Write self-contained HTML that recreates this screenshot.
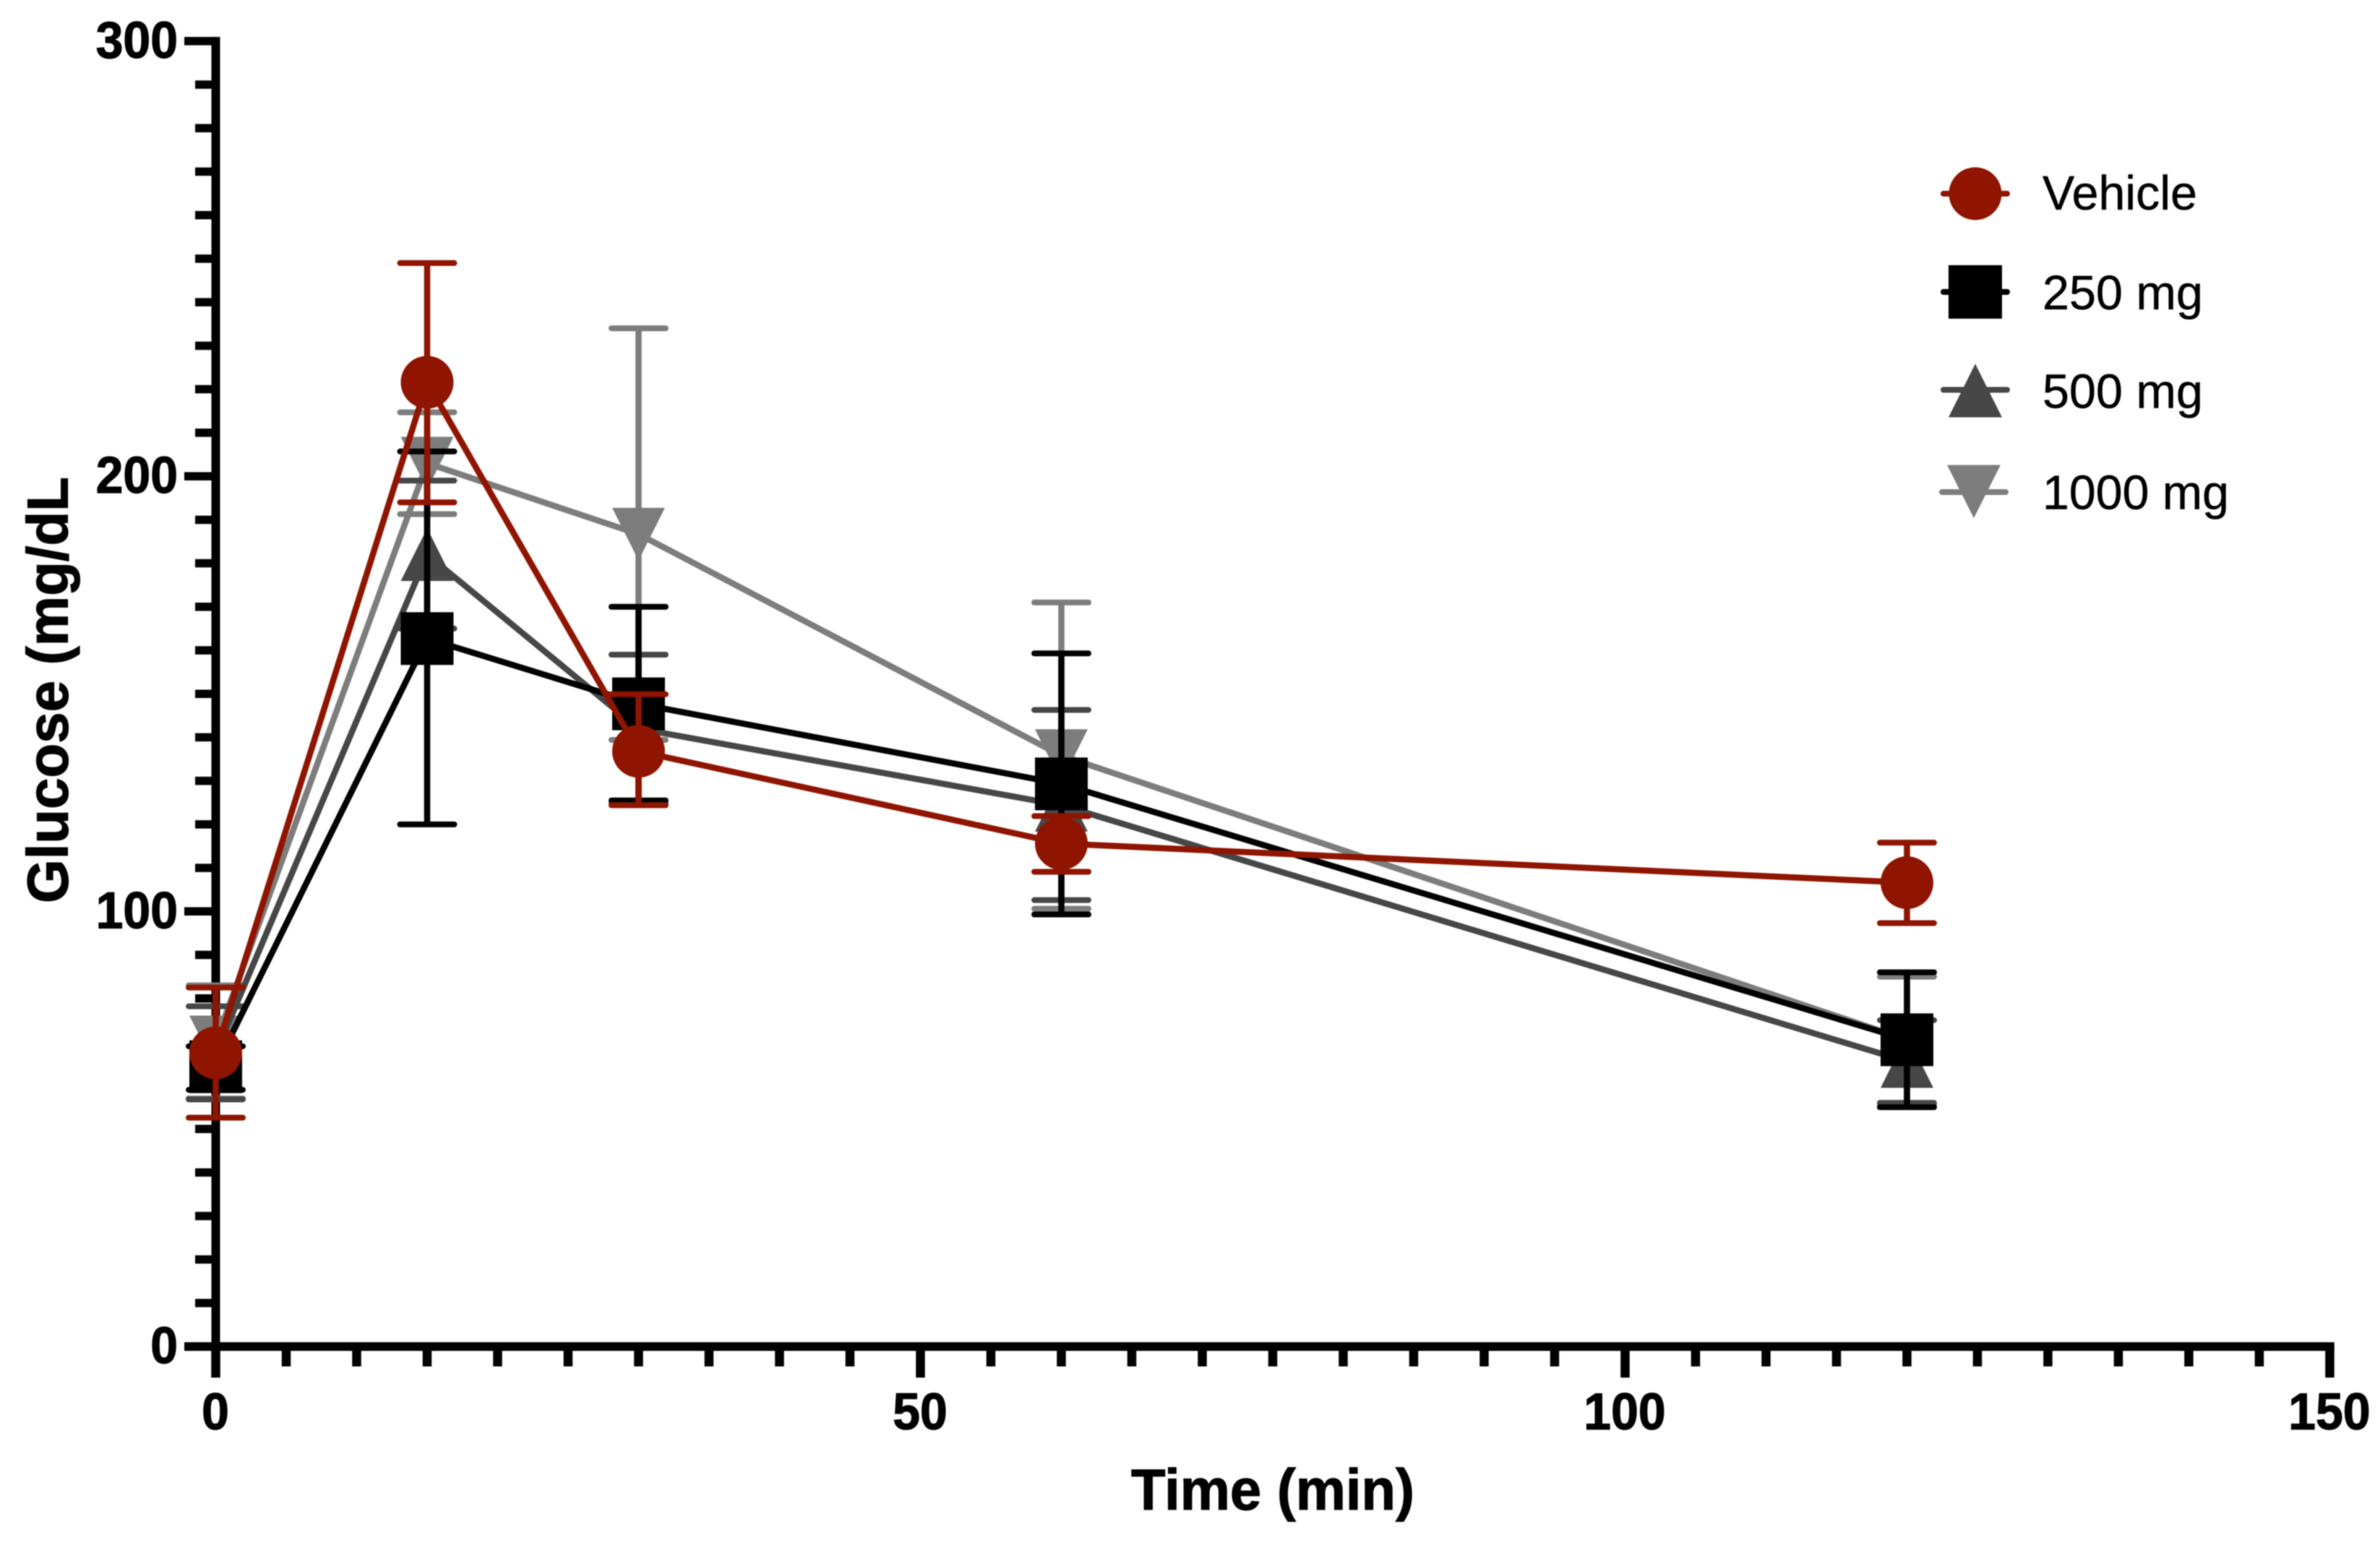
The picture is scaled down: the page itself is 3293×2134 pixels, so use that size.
<!DOCTYPE html>
<html lang="en">
<head>
<meta charset="utf-8">
<title>Glucose over time</title>
<style>
  html, body { margin: 0; padding: 0; background: #fff; }
  #chart { display: block; width: 3293px; height: 2134px; filter: blur(0.7px); font-family: "Liberation Sans", Arial, sans-serif; }
  .tick-label { font-weight: 700; font-size: 71px; fill: #000; stroke: #000; stroke-width: 1.2px; }
  .axis-title { font-weight: 700; font-size: 80px; fill: #000; stroke: #000; stroke-width: 1.2px; }
  .legend-label { font-size: 67px; fill: #000; stroke: #000; stroke-width: 0.5px; }
</style>
</head>
<body>
<svg id="chart" xmlns="http://www.w3.org/2000/svg" width="3293" height="2134" viewBox="0 0 3293 2134">
  <rect x="0" y="0" width="3293" height="2134" fill="#ffffff"></rect>
  <g id="axes"></g>
  <g id="series"></g>

  <text class="axis-title" x="1565" y="2089" textLength="392" lengthAdjust="spacingAndGlyphs">Time (min)</text>
  <text class="axis-title" transform="translate(93.5 1250) rotate(-90)" x="0" y="0" textLength="590" lengthAdjust="spacingAndGlyphs">Glucose (mg/dL</text>

  <g>
    <g>
      <line x1="2689" y1="268" x2="2777" y2="268" stroke="#8f1500" stroke-width="8" stroke-linecap="round"></line>
      <circle cx="2733" cy="268" r="36.5" fill="#8f1500"></circle>
      <text class="legend-label" x="2826" y="290" textLength="214" lengthAdjust="spacingAndGlyphs">Vehicle</text>
    </g>
    <g>
      <line x1="2689" y1="404" x2="2777" y2="404" stroke="#000000" stroke-width="8" stroke-linecap="round"></line>
      <rect x="2696" y="367" width="74" height="74" fill="#000000"></rect>
      <text class="legend-label" x="2826" y="428" textLength="222" lengthAdjust="spacingAndGlyphs">250 mg</text>
    </g>
    <g>
      <line x1="2689" y1="539.5" x2="2777" y2="539.5" stroke="#474747" stroke-width="8" stroke-linecap="round"></line>
      <polygon points="2733,503.5 2770,577.5 2696,577.5" fill="#474747"></polygon>
      <text class="legend-label" x="2826" y="564.5" textLength="222" lengthAdjust="spacingAndGlyphs">500 mg</text>
    </g>
    <g>
      <line x1="2687" y1="681" x2="2775" y2="681" stroke="#7d7d7d" stroke-width="8" stroke-linecap="round"></line>
      <polygon points="2694,643.5 2768,643.5 2731,717" fill="#7d7d7d"></polygon>
      <text class="legend-label" x="2826" y="704.5" textLength="258" lengthAdjust="spacingAndGlyphs">1000 mg</text>
    </g>
  </g>
</svg>

<script>
const timePoints = [0, 15, 30, 60, 120];

const vehicleMean  = [67.5, 221.6, 136.8, 115.6, 106.6];
const vehicleUpper = [82.5, 249.0, 149.9, 121.9, 115.8];
const vehicleLower = [52.6, 194.0, 124.4, 109.1, 97.3];

const dose250Mean  = [64.3, 162.7, 147.7, 129.3, 70.5];
const dose250Upper = [69.0, 205.7, 170.0, 159.3, 86.0];
const dose250Lower = [59.0, 120.0, 125.5, 99.3, 55.0];

const dose500Mean  = [67.5, 182.0, 142.0, 124.4, 65.5];
const dose500Upper = [78.2, 199.0, 159.0, 146.3, 75.0];
const dose500Lower = [56.8, 165.0, 125.0, 102.6, 56.0];

const dose1000Mean  = [70.0, 203.0, 186.7, 135.8, 70.5];
const dose1000Upper = [83.0, 214.7, 234.0, 171.0, 85.0];
const dose1000Lower = [57.0, 191.3, 139.4, 100.6, 55.5];

const xTickLabels = [0, 50, 100, 150];
const yTickLabels = [0, 100, 200, 300];

const X_ORIGIN = 298.5, X_SCALE = 19.5, X_MAX = 150, X_MINOR_STEP = 5;
const Y_ORIGIN = 1863.5, Y_SCALE = 6.022, Y_MAX = 300, Y_MINOR_STEP = 10;

function xAt(t) { return X_ORIGIN + t * X_SCALE; }
function yAt(v) { return Y_ORIGIN - v * Y_SCALE; }

const NS = 'http://www.w3.org/2000/svg';
function make(tag, attrs, parent) {
  const node = document.createElementNS(NS, tag);
  for (const key in attrs) node.setAttribute(key, attrs[key]);
  parent.appendChild(node);
  return node;
}

/* ---------- axes ---------- */
const axes = document.getElementById('axes');
const AXIS_W = 12;

for (let v = 0; v <= Y_MAX; v += Y_MINOR_STEP) {
  const major = v % 100 === 0;
  const tick = make('line', { x1: major ? 255 : 270, x2: X_ORIGIN, y1: yAt(v), y2: yAt(v), stroke: '#000', 'stroke-width': 11.5 }, axes);
  
  
}
for (let t = 0; t <= X_MAX; t += X_MINOR_STEP) {
  const major = t % 50 === 0;
  const tick = make('line', { x1: xAt(t), x2: xAt(t), y1: Y_ORIGIN, y2: major ? 1906.5 : 1891, stroke: '#000', 'stroke-width': 12.5 }, axes);
  
  
}
const yAxisLine = make('line', { x1: X_ORIGIN, x2: X_ORIGIN, y1: yAt(Y_MAX) - 5.75, y2: 1906.5, stroke: '#000', 'stroke-width': AXIS_W }, axes);


const xAxisLine = make('line', { x1: 255, x2: xAt(X_MAX) + 6.25, y1: Y_ORIGIN, y2: Y_ORIGIN, stroke: '#000', 'stroke-width': AXIS_W }, axes);



function fitWidth(label) { return String(label).length * 37.8; }

yTickLabels.forEach(function (label) {
  const txt = make('text', { class: 'tick-label', x: 246, y: yAt(label) + 23, 'text-anchor': 'end', textLength: fitWidth(label), lengthAdjust: 'spacingAndGlyphs' }, axes);
  
  
  txt.textContent = label;
});
xTickLabels.forEach(function (label) {
  const txt = make('text', { class: 'tick-label', x: xAt(label) - 0.5, y: 1978, 'text-anchor': 'middle', textLength: fitWidth(label), lengthAdjust: 'spacingAndGlyphs' }, axes);
  
  
  txt.textContent = label;
});

/* ---------- series ---------- */
const seriesRoot = document.getElementById('series');
const CAP_HALF = 37.5, MARK = 36.5;

function drawMarker(kind, px, py, color, parent) {
  if (kind === 'circle') return make('circle', { cx: px, cy: py, r: MARK, fill: color }, parent);
  if (kind === 'square') return make('rect', { x: px - MARK, y: py - MARK, width: MARK * 2, height: MARK * 2, fill: color }, parent);
  if (kind === 'up') return make('polygon', { points: [px, py - MARK, px + MARK, py + MARK, px - MARK, py + MARK].join(' '), fill: color }, parent);
  return make('polygon', { points: [px - MARK, py - MARK, px + MARK, py - MARK, px, py + MARK].join(' '), fill: color }, parent);
}

function drawSeries(slug, kind, color, means, uppers, lowers) {
  const group = make('g', {}, seriesRoot);
  
  

  timePoints.forEach(function (t, i) {
    const px = xAt(t);
    const stem = make('line', { x1: px, x2: px, y1: yAt(uppers[i]), y2: yAt(lowers[i]), stroke: color, 'stroke-width': 8.5 }, group);
    
    
    const capTop = make('line', { x1: px - CAP_HALF, x2: px + CAP_HALF, y1: yAt(uppers[i]), y2: yAt(uppers[i]), stroke: color, 'stroke-width': 8, 'stroke-linecap': 'round' }, group);
    
    
    const capBottom = make('line', { x1: px - CAP_HALF, x2: px + CAP_HALF, y1: yAt(lowers[i]), y2: yAt(lowers[i]), stroke: color, 'stroke-width': 8, 'stroke-linecap': 'round' }, group);
    
    
  });

  const pts = timePoints.map(function (t, i) { return xAt(t) + ',' + yAt(means[i]); }).join(' ');
  const path = make('polyline', { points: pts, fill: 'none', stroke: color, 'stroke-width': 8.5, 'stroke-linejoin': 'miter' }, group);
  
  

  timePoints.forEach(function (t, i) {
    const marker = drawMarker(kind, xAt(t), yAt(means[i]), color, group);
    
    
  });
}

drawSeries('1000-mg', 'down', '#7d7d7d', dose1000Mean, dose1000Upper, dose1000Lower);
drawSeries('500-mg', 'up', '#474747', dose500Mean, dose500Upper, dose500Lower);
drawSeries('250-mg', 'square', '#000000', dose250Mean, dose250Upper, dose250Lower);
drawSeries('vehicle', 'circle', '#8f1500', vehicleMean, vehicleUpper, vehicleLower);
</script>
</body>
</html>
